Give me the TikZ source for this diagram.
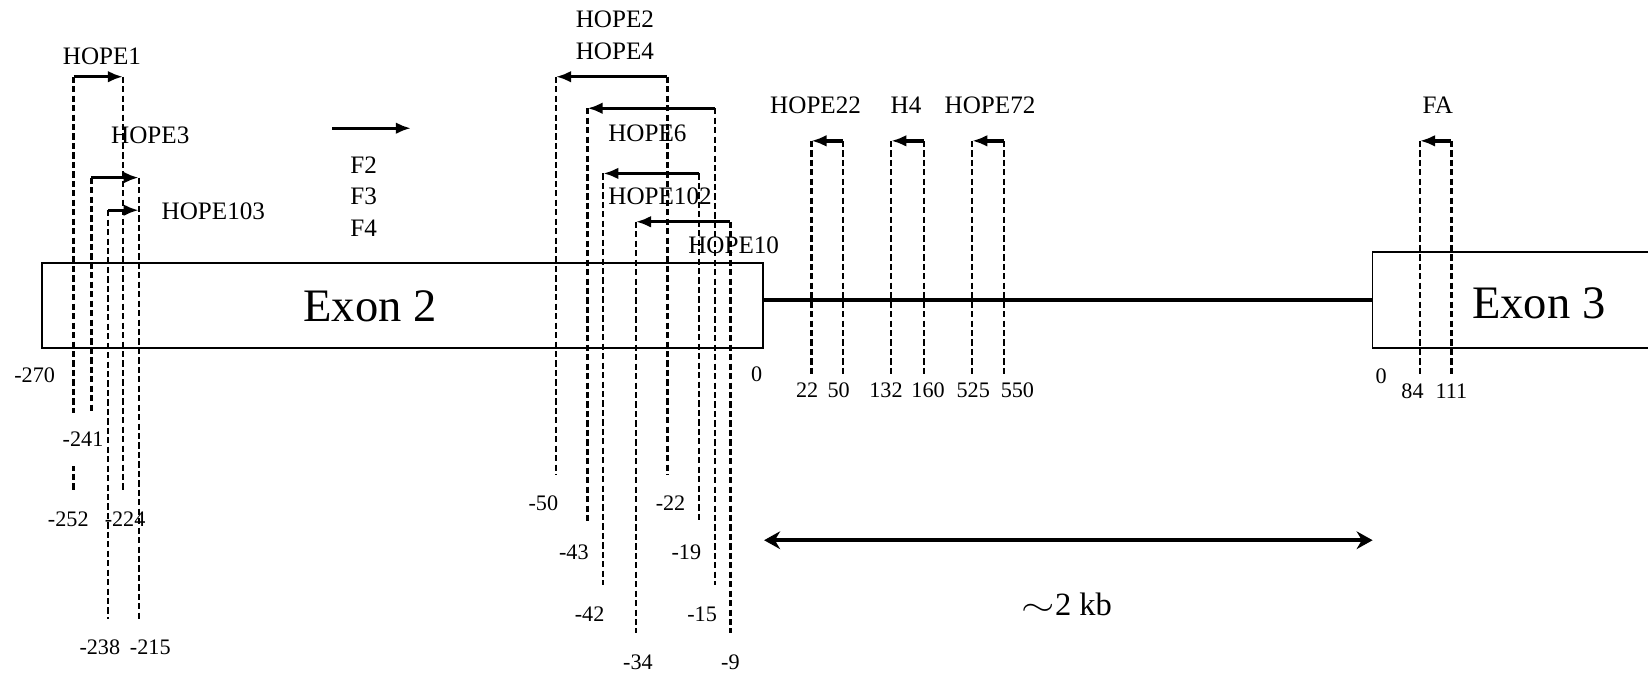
\documentclass[tikz,border=0pt]{standalone}
\usepackage{fontspec}
\setmainfont{Liberation Serif}
\usetikzlibrary{arrows.meta, positioning, calc}

\begin{document}
\begin{tikzpicture}[
    x=0.025cm, y=-0.025cm,
    exon/.style={rectangle, draw=black, line width=1.1pt, inner sep=0pt},
    exonname/.style={font=\fontsize{31.5}{36}\selectfont, inner sep=0pt},
    primer/.style={-{Latex[length=0.36cm, width=0.28cm]}, line width=2.3pt},
    guide/.style={line width=1.6pt, dash pattern=on 4.2pt off 2.2pt},
    oligo/.style={font=\fontsize{17}{21.3}\selectfont, align=center, inner sep=0pt},
    numlbl/.style={font=\fontsize{15}{18}\selectfont, inner sep=0pt},
    scalebar/.style={{Stealth[length=0.38cm, width=0.42cm]}-{Stealth[length=0.38cm, width=0.42cm]}, line width=2.6pt},
  ]
    \useasboundingbox (0,0) rectangle (1568,644);

    % exons and intron
    \node[exon, minimum width=17.15cm, minimum height=2.025cm] (ex2) at (383,290.5) {};
    \node[exon, minimum width=7.5cm, minimum height=2.275cm, anchor=west] (ex3) at (1305,285.5) {};
    \node[exonname] (ex2t) at (352,291) {Exon 2};
    \node[exonname] (ex3t) at (1464,289) {Exon 3};
    \draw[line width=2.2pt] (ex2.east |- ex3.west) -- (ex3.west);

    % primer ends
    \coordinate (h1a) at (70,73);   \coordinate (h1b) at (117,73);
    \coordinate (h3a) at (87,169);  \coordinate (h3b) at (132,169);
    \coordinate (h103a) at (103,200); \coordinate (h103b) at (132,200);
    \coordinate (h2a) at (529,73);  \coordinate (h2b) at (635,73);
    \coordinate (h6a) at (559,103); \coordinate (h6b) at (680,103);
    \coordinate (h102a) at (574,165); \coordinate (h102b) at (665,165);
    \coordinate (h10a) at (605,211); \coordinate (h10b) at (695,211);
    \coordinate (h22a) at (772,134); \coordinate (h22b) at (802,134);
    \coordinate (h4a) at (848,134); \coordinate (h4b) at (879,134);
    \coordinate (h72a) at (925,134); \coordinate (h72b) at (955,134);
    \coordinate (faa) at (1351,134); \coordinate (fab) at (1381,134);
    \coordinate (fwa) at (316,122); \coordinate (fwb) at (391,122);

    % positions
    \node[numlbl] (n270) at (33,357) {-270};
    \node[numlbl] (n252) at (65,494) {-252};
    \node[numlbl] (n224) at (119,494) {-224};
    \node[numlbl] (n238) at (95,616) {-238};
    \node[numlbl] (n215) at (143,616) {-215};
    \node[numlbl] (n50) at (517,479) {-50};
    \node[numlbl] (n22) at (638,479) {-22};
    \node[numlbl] (n43) at (546,525) {-43};
    \node[numlbl] (n19) at (653,525) {-19};
    \node[numlbl] (n42) at (561,584) {-42};
    \node[numlbl] (n15) at (668,584) {-15};
    \node[numlbl] (n34) at (607,630) {-34};
    \node[numlbl] (n9) at (695,630) {-9};
    \node[numlbl] (z2) at (720,356) {0};
    \node[numlbl] (p22) at (768,371) {22};
    \node[numlbl] (p50) at (798,371) {50};
    \node[numlbl] (p132) at (843,371) {132};
    \node[numlbl] (p160) at (883,371) {160};
    \node[numlbl] (p525) at (926,371) {525};
    \node[numlbl] (p550) at (968,371) {550};
    \node[numlbl] (z3) at (1314,358) {0};
    \node[numlbl] (p84) at (1344,372) {84};
    \node[numlbl] (p111) at (1381,372) {111};

    \draw[guide, shorten >=0.5cm] (h1a) -- (h1a |- n252.north);
    \node[numlbl, fill=white, inner xsep=1pt, inner ysep=0.45cm] (n241) at (79,418) {-241};
    \draw[guide, shorten >=0.05cm] (h3a) -- (h3a |- n241.north);
    \draw[guide, shorten >=0.5cm] (h1b) -- (h1b |- n224.north);
    \draw[guide, shorten >=0.5cm] (h103a) -- (h103a |- n238.north);
    \draw[guide, shorten >=0.5cm] (h3b) -- (h3b |- n215.north);
    \draw[guide, shorten >=0.5cm] (h2a) -- (h2a |- n50.north);
    \draw[guide, shorten >=0.5cm] (h2b) -- (h2b |- n22.north);
    \draw[guide, shorten >=0.5cm] (h6a) -- (h6a |- n43.north);
    \draw[guide, shorten >=0.5cm] (h102b) -- (h102b |- n19.north);
    \draw[guide, shorten >=0.5cm] (h102a) -- (h102a |- n42.north);
    \draw[guide, shorten >=0.5cm] (h6b) -- (h6b |- n15.north);
    \draw[guide, shorten >=0.5cm] (h10a) -- (h10a |- n34.north);
    \draw[guide, shorten >=0.5cm] (h10b) -- (h10b |- n9.north);
    \draw[guide, shorten >=0.15cm] (h22a) -- (h22a |- p22.north);
    \draw[guide, shorten >=0.15cm] (h22b) -- (h22b |- p50.north);
    \draw[guide, shorten >=0.15cm] (h4a) -- (h4a |- p132.north);
    \draw[guide, shorten >=0.15cm] (h4b) -- (h4b |- p160.north);
    \draw[guide, shorten >=0.15cm] (h72a) -- (h72a |- p525.north);
    \draw[guide, shorten >=0.15cm] (h72b) -- (h72b |- p550.north);
    \draw[guide, shorten >=0.15cm] (faa) -- (faa |- p84.north);
    \draw[guide, shorten >=0.15cm] (fab) -- (fab |- p111.north);

    % primers
    \draw[primer] (h1a) -- (h1b);
    \draw[primer] (h3a) -- (h3b);
    \draw[primer] (h103a) -- (h103b);
    \draw[primer] (fwa) -- (fwb);
    \draw[primer] (h2b) -- (h2a);
    \draw[primer] (h6b) -- (h6a);
    \draw[primer] (h102b) -- (h102a);
    \draw[primer] (h10b) -- (h10a);
    \draw[primer] (h22b) -- (h22a);
    \draw[primer] (h4b) -- (h4a);
    \draw[primer] (h72b) -- (h72a);
    \draw[primer] (fab) -- (faa);

    \node[oligo] (o1) at (97,54) {HOPE1};
    \node[oligo] (o3) at (143,129) {HOPE3};
    \node[oligo] (o103) at (203,201) {HOPE103};
    \node[oligo] (of) at (346,187) {F2\\F3\\F4};
    \node[oligo] (o24) at (585,33.5) {HOPE2\\HOPE4};
    \node[oligo] (o6) at (616,127) {HOPE6};
    \node[oligo] (o102) at (628,187) {HOPE102};
    \node[oligo] (o10) at (698,233) {HOPE10};
    \node[oligo] (o22) at (776,100) {HOPE22};
    \node[oligo] (o4) at (862,100) {H4};
    \node[oligo] (o72) at (942,100) {HOPE72};
    \node[oligo] (ofa) at (1368,100) {FA};

    % scale
    \coordinate (sbl) at (727,514);
    \coordinate (sbr) at (1306,514);
    \draw[scalebar] (sbl) -- (sbr);
    \node[font=\fontsize{22}{26}\selectfont] (kb) at (1015,575) {\scalebox{1.4}[1]{$\sim$}2 kb};
  \end{tikzpicture}
\end{document}
